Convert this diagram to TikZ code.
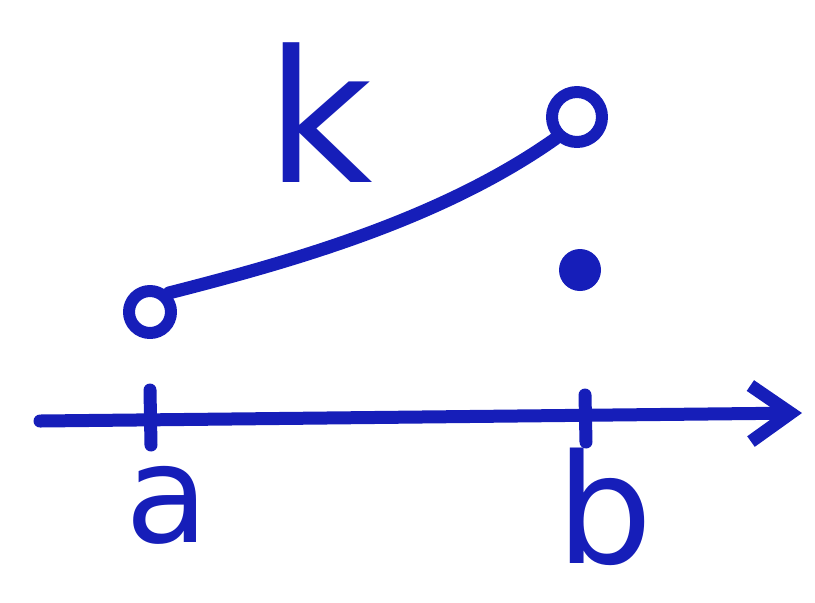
\documentclass[tikz,border=0pt]{standalone}
\usepackage{fontspec}
\setsansfont{DejaVu Sans}
\usetikzlibrary{arrows.meta}
\definecolor{pen}{RGB}{22,30,185}
\begin{document}
\begin{tikzpicture}[x=0.5pt,y=-0.5pt,
  ink/.style={draw=pen,line width=6.5pt,line cap=round,line join=round},
  lbl/.style={text=pen,font=\sffamily\fontsize{#1}{#1}\selectfont,inner sep=0pt}]
\useasboundingbox (0,0) rectangle (815,602);
% axis
\coordinate (s) at (40,421);
\coordinate (e) at (802,413);
\draw[ink,-{Straight Barb[length=20pt,width=28pt,line width=6.5pt]}] (s) -- (e);
% ticks
\coordinate (a1) at (150,390); \coordinate (a2) at (151,445);
\coordinate (b1) at (585,395); \coordinate (b2) at (586,442);
\draw[ink] (a1) -- (a2);
\draw[ink] (b1) -- (b2);
% circles and dot
\node[ink,circle,minimum size=21pt,inner sep=0pt,line width=6pt] (o1) at (150,312) {};
\node[ink,circle,minimum size=25pt,inner sep=0pt,line width=6pt] (o2) at (577,117) {};
\node[fill=pen,circle,minimum size=21pt,inner sep=0pt] (d) at (580,270) {};
% curve
\draw[ink] (o1.north east) .. controls (290,262) and (440,220) .. (o2.south west);
% labels
\node[lbl=92] (k) at (320,113) {k};
\node[lbl=68] (la) at (167,505) {a};
\node[lbl=76] (lb) at (605,507) {b};
\end{tikzpicture}
\end{document}
